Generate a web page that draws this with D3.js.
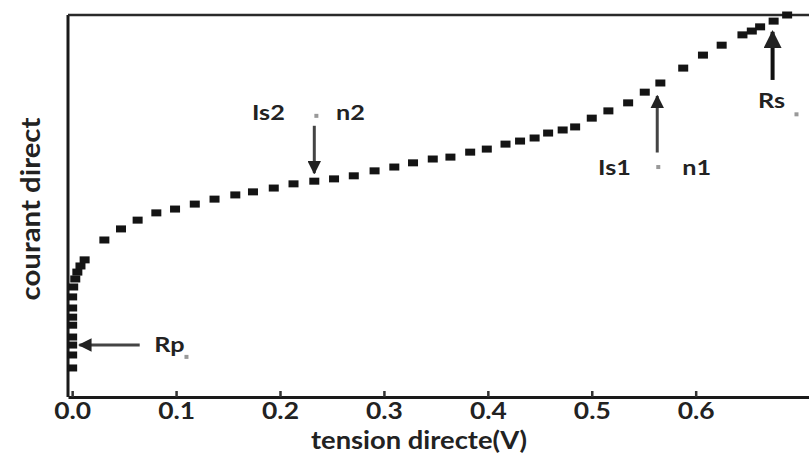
<!DOCTYPE html>
<html>
<head>
<meta charset="utf-8">
<script src="https://cdn.jsdelivr.net/npm/d3@7"></script>
<style>
  body { margin: 0; background: #fff; }
  text { font-family: Lato, "Open Sans", sans-serif; font-weight: bold; fill: #222; }
</style>
</head>
<body>
<div id="chart"></div>
<script>

// forward voltage (V) and forward current (arbitrary units, 0-100)
const tension = [
  0.000, 0.000, 0.000, 0.000, 0.000, 0.000, 0.000, 0.000, 0.001, 0.003, 0.005, 0.008, 0.012,
  0.031, 0.047, 0.063, 0.081, 0.099, 0.118, 0.137, 0.157, 0.174, 0.194, 0.213, 0.233,
  0.252, 0.271, 0.291, 0.310, 0.328, 0.347, 0.364, 0.383, 0.399, 0.417, 0.431, 0.445,
  0.458, 0.472, 0.484, 0.500, 0.516, 0.535, 0.551, 0.566, 0.588, 0.607, 0.625, 0.645,
  0.654, 0.662, 0.675, 0.688
];
const courant = [
  7.6, 11.0, 13.6, 15.7, 18.8, 20.9, 23.3, 26.2, 28.8, 30.9, 32.7, 34.3, 35.9,
  41.1, 44.0, 46.3, 48.2, 49.2, 50.5, 51.8, 52.9, 53.7, 54.7, 55.8, 56.5,
  57.1, 57.9, 59.2, 60.2, 61.3, 62.3, 62.8, 64.1, 64.9, 66.2, 67.0, 67.8,
  69.1, 69.9, 70.7, 73.0, 74.9, 77.0, 79.8, 82.2, 86.1, 89.5, 92.1, 94.8,
  95.8, 96.9, 98.4, 100.0
];

const xTicks = [0.0, 0.1, 0.2, 0.3, 0.4, 0.5, 0.6];

// arrows: tail -> head, in data units
const arrowNames = ["Rp", "Is2", "Is1", "Rs"];
const arrowFrom = [[0.065, 13.6], [0.233, 71.0], [0.563, 64.0], [0.674, 83.0]];
const arrowTo = [[0.007, 13.6], [0.233, 58.6], [0.563, 78.8], [0.674, 95.6]];

// text labels near arrows
const labelText = ["Rp", "Is2", "n2", "Is1", "n1", "Rs"];
const labelPos = [[0.079, 11.8], [0.173, 72.4], [0.254, 72.4], [0.506, 58.2], [0.587, 58.2], [0.660, 75.7]];

// small grey marks next to labels
const dotPos = [[0.235, 73.6], [0.564, 60.2], [0.697, 74.0], [0.110, 10.5]];

const width = 809, height = 462;
const stretch = 1.2; // the glyphs in the original look widened
const x = d3.scaleLinear().domain([-0.004, 0.71]).range([68, 810]);
const y = d3.scaleLinear().domain([0, 100]).range([397, 15]);

const svg = d3.select("#chart").append("svg")
  .attr("width", width)
  .attr("height", height);

// frame: left and top
svg.append("line").attr("x1", x(-0.004)).attr("x2", x(-0.004))
  .attr("y1", y(100)).attr("y2", y(0))
  .attr("stroke", "#1a1a1a").attr("stroke-width", 3);
svg.append("line").attr("x1", x(-0.004)).attr("x2", width)
  .attr("y1", y(100)).attr("y2", y(100))
  .attr("stroke", "#2a2a2a").attr("stroke-width", 2.5);

const xAxis = svg.append("g")
  .attr("transform", `translate(0, ${y(0)})`)
  .call(d3.axisBottom(x).tickValues(xTicks).tickFormat(d3.format(".1f"))
    .tickSizeInner(-6).tickSizeOuter(0).tickPadding(6));
xAxis.select(".domain").attr("stroke", "#1a1a1a").attr("stroke-width", 3);
xAxis.selectAll(".tick line").attr("stroke", "#333").attr("stroke-width", 2.5);
xAxis.selectAll(".tick text")
  .style("font-family", "Lato, sans-serif")
  .style("font-weight", "bold")
  .style("font-size", "22px")
  .attr("fill", "#333")
  .attr("transform", `scale(${stretch},1)`);

// axis titles
svg.append("text")
  .attr("transform", `translate(419, 449) scale(${stretch * 0.95},1)`)
  .attr("text-anchor", "middle")
  .style("font-size", "24px")
  .text("tension directe(V)");

svg.append("text")
  .attr("transform", "translate(40, 209) rotate(-90) scale(1.13,1)")
  .attr("text-anchor", "middle")
  .style("font-size", "26px")
  .text("courant direct");

// data points
const pts = tension.map((t, i) => [t, courant[i]]);
svg.append("g").selectAll("rect").data(pts).enter()
  .append("rect")
    .attr("x", d => x(d[0]) - 5)
    .attr("y", d => y(d[1]) - 3.5)
    .attr("width", 10)
    .attr("height", 7)
    .attr("fill", "#141414");

// arrows
svg.append("defs").append("marker")
  .attr("id", "head")
  .attr("viewBox", "0 0 10 10")
  .attr("refX", 9).attr("refY", 5)
  .attr("markerWidth", 4.5).attr("markerHeight", 4.5)
  .attr("orient", "auto")
  .append("path")
    .attr("d", "M0,0 L10,5 L0,10 Z")
    .attr("fill", "#222");

svg.append("g").selectAll("line").data(arrowNames).enter()
  .append("line")
    .attr("x1", (d, i) => x(arrowFrom[i][0]))
    .attr("y1", (d, i) => y(arrowFrom[i][1]))
    .attr("x2", (d, i) => x(arrowTo[i][0]))
    .attr("y2", (d, i) => y(arrowTo[i][1]))
    .attr("stroke", (d, i) => i == 3 ? "#111" : "#444")
    .attr("stroke-width", (d, i) => i == 3 ? 4 : 3)
    .attr("marker-end", "url(#head)");

svg.append("g").selectAll("text").data(labelText).enter()
  .append("text")
    .attr("transform", (d, i) =>
      `translate(${x(labelPos[i][0])}, ${y(labelPos[i][1])}) scale(${stretch},1)`)
    .style("font-size", "21px")
    .text(d => d);

svg.append("g").selectAll("rect").data(dotPos).enter()
  .append("rect")
    .attr("x", d => x(d[0]) - 2)
    .attr("y", d => y(d[1]) - 2)
    .attr("width", 4).attr("height", 4)
    .attr("fill", "#999");

</script>
</body>
</html>
